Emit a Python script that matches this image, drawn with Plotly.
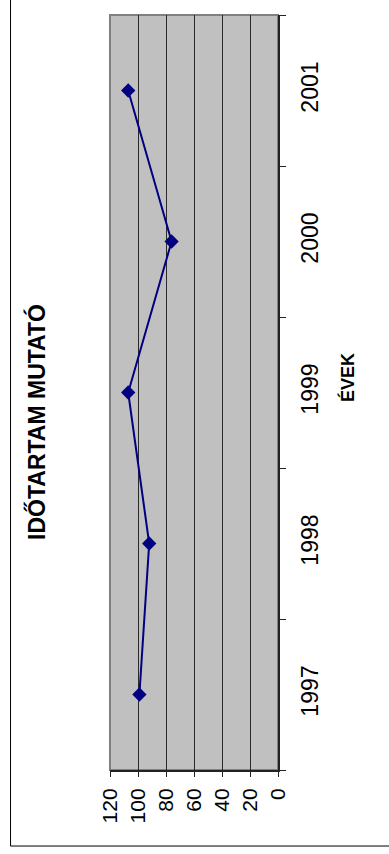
import plotly.graph_objects as go

# Duration index by year
years = ["1997", "1998", "1999", "2000", "2001"]
index_values = [99, 92, 107, 76, 107]
value_ticks = [0, 20, 40, 60, 80, 100, 120]

FONT = "Liberation Sans, Arial, sans-serif"

fig = go.Figure()
fig.add_trace(go.Scatter(
    x=index_values,
    y=years,
    mode="lines+markers",
    line=dict(color="#000080", width=2),
    marker=dict(symbol="diamond", size=11, color="#000080"),
    hoverinfo="skip",
    showlegend=False,
))

fig.update_layout(
    width=389,
    height=854,
    margin=dict(l=110, r=111, t=15, b=84),
    paper_bgcolor="white",
    plot_bgcolor="#C0C0C0",
    font=dict(family=FONT, color="black"),
    xaxis=dict(
        range=[120, 0],
        tickvals=value_ticks,
        ticktext=[str(v) for v in value_ticks],
        tickangle=-90,
        tickfont=dict(size=21),
        ticks="outside",
        ticklen=5,
        tickcolor="#222222",
        ticklabelstandoff=3,
        showline=True,
        linecolor="#222222",
        linewidth=2,
        showgrid=True,
        gridcolor="#2a2a2a",
        gridwidth=1,
        zeroline=False,
        fixedrange=True,
    ),
    yaxis=dict(
        type="category",
        categoryorder="array",
        categoryarray=years,
        range=[-0.5, 4.5],
        side="right",
        tickangle=-90,
        tickfont=dict(size=23),
        ticks="outside",
        tickson="boundaries",
        ticklen=6,
        tickcolor="#222222",
        ticklabelstandoff=10,
        showline=True,
        linecolor="#222222",
        linewidth=2,
        showgrid=False,
        zeroline=False,
        fixedrange=True,
    ),
    shapes=[
        # plot area border (grey left/top edges)
        dict(type="rect", xref="paper", yref="paper", x0=0, x1=1, y0=0, y1=1,
             line=dict(color="#808080", width=2), layer="below"),
        # chart area frame
        dict(type="rect", xref="paper", yref="paper",
             x0=-0.592, x1=1.70, y0=-0.1007, y1=1.03,
             line=dict(color="black", width=1)),
    ],
    annotations=[
        dict(text="<b>IDŐTARTAM MUTATÓ</b>", xref="paper", yref="paper",
             x=-0.4345, y=0.461, xanchor="center", yanchor="middle",
             textangle=-90, showarrow=False,
             font=dict(size=23, family=FONT)),
        dict(text="<b>ÉVEK</b>", xref="paper", yref="paper",
             x=1.415, y=0.52, xanchor="center", yanchor="middle",
             textangle=-90, showarrow=False,
             font=dict(size=18, family=FONT)),
    ],
)

fig.write_html("out.html")
